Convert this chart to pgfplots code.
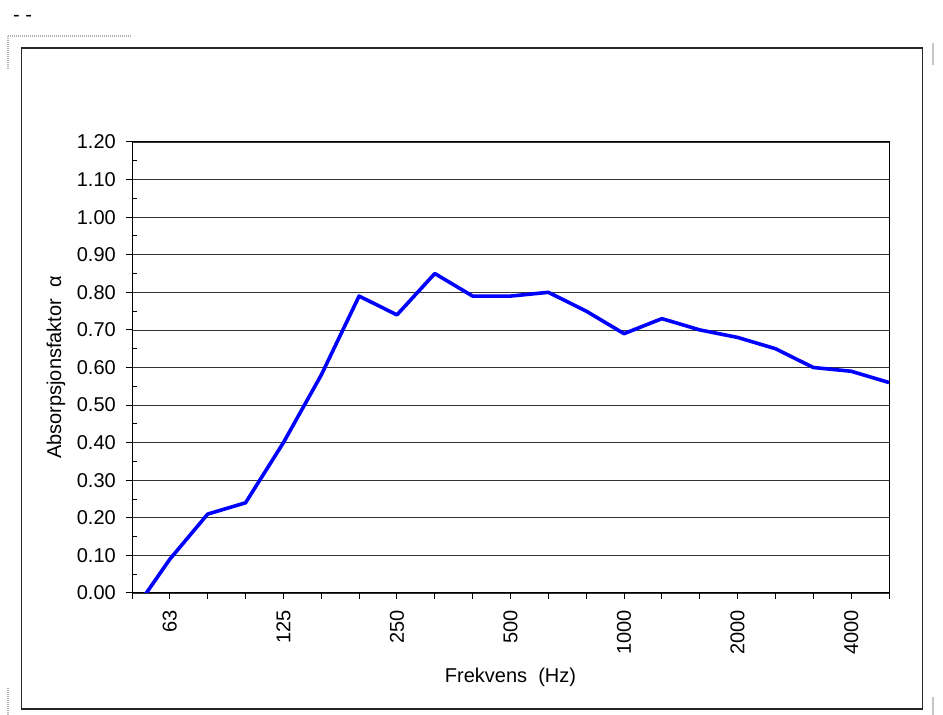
\documentclass[border=0pt]{standalone}
\usepackage{fontspec}
\setmainfont{Liberation Sans}
\usepackage{pgfplots}
\pgfplotsset{compat=1.18}
\definecolor{lineblue}{RGB}{0,0,255}
\begin{document}
\begin{tikzpicture}[x=1pt,y=1pt]
\useasboundingbox (0,0) rectangle (943,715);
% page decorations
\node[anchor=base west, inner sep=0pt, font=\fontsize{20}{24}\selectfont] at (13,693) {- -};
\draw[gray!60, line width=1.6pt, dash pattern=on 1pt off 1pt] (8,679) -- (131,679);
\draw[gray!60, line width=1.6pt, dash pattern=on 1pt off 1pt] (8,679) -- (8,645);
\draw[gray!60, line width=1.6pt, dash pattern=on 1pt off 1pt] (8,27) -- (8,0);
\draw[gray!45, line width=2pt] (932.5,672) -- (932.5,650);
\draw[gray!45, line width=2pt] (932.5,18) -- (932.5,0);
\draw[black!85, line width=1.3pt] (21.5,667) rectangle (922.5,6);
\begin{axis}[
  at={(132pt,122pt)}, anchor=south west,
  width=757pt, height=451pt, scale only axis,
  xmin=0, xmax=20, ymin=0, ymax=1.2,
  xtick={0,...,20},
  xticklabels={,63,,,125,,,250,,,500,,,1000,,,2000,,,4000,},
  ytick={0,0.1,0.2,0.3,0.4,0.5,0.6,0.7,0.8,0.9,1.0,1.1,1.2},
  minor y tick num=1,
  tick align=outside, tick pos=left,
  major tick length=6pt, minor tick length=5pt,
  minor y tick style={xshift=5pt},
  ymajorgrids, major grid style={black!80, line width=0.8pt},
  axis line style={black, line width=1pt},
  tick style={black, line width=1pt},
  /pgf/number format/assume math mode=true,
  yticklabel style={/pgf/number format/fixed, /pgf/number format/fixed zerofill, /pgf/number format/precision=2},
  ticklabel style={font=\fontsize{20}{24}\selectfont},
  yticklabel style={anchor=east, inner sep=0pt, xshift=-10pt},
  xticklabel style={rotate=90, anchor=east, inner sep=0pt, xshift=-11pt},
  xlabel={Frekvens\ \ (Hz)},
  ylabel={Absorpsjonsfaktor\ \ α},
  label style={font=\fontsize{20}{24}\selectfont},
  xlabel style={at={(axis description cs:0.5,-0.1863)}, anchor=center},
  ylabel style={at={(axis description cs:-0.1004,0.5)}, anchor=center},
]
\addplot[lineblue, line width=3.6pt, line join=round, mark=none] table {
x y
0 -0.055
1 0.09
2 0.21
3 0.24
4 0.40
5 0.58
6 0.79
7 0.74
8 0.85
9 0.79
10 0.79
11 0.80
12 0.75
13 0.69
14 0.73
15 0.70
16 0.68
17 0.65
18 0.60
19 0.59
20 0.56
};
\end{axis}
\end{tikzpicture}
\end{document}
